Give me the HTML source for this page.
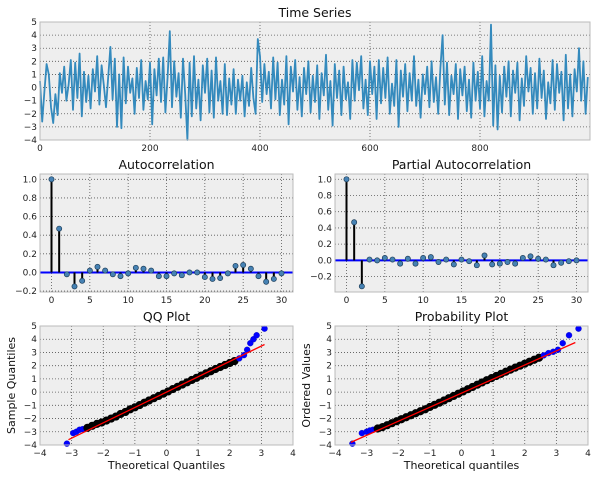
<!DOCTYPE html>
<html><head><meta charset="utf-8"><style>
html,body{margin:0;padding:0;background:#fff;}
svg{display:block;font-family:"DejaVu Sans","Liberation Sans",sans-serif;}
</style></head><body>
<svg id="fig" width="600" height="480" viewBox="0 0 600 480" xmlns="http://www.w3.org/2000/svg"></svg>
<script>
const tsValues=[0.5,-2.6,-0.3,1.8,1.0,-1.5,-2.7,-0.5,-2.1,1.1,
-0.4,1.6,-1.0,0.2,2.1,-1.7,1.9,-0.8,2.6,-2.2,
1.2,-1.1,0.9,-1.6,1.4,-0.3,2.4,-1.3,1.7,0.2,
-1.5,0.8,3.1,-0.9,2.2,-3.0,1.0,-3.1,2.3,-1.2,
1.6,-0.4,0.7,-2.0,1.5,-0.8,2.1,-1.7,0.5,-0.9,
1.9,-2.8,1.4,-0.6,2.2,-1.1,2.3,-1.9,0.8,4.3,
-1.5,2.0,-0.7,1.1,-2.3,2.2,-0.5,-4.0,1.9,-2.2,
2.4,-1.6,0.6,-2.5,1.7,-0.4,2.2,-1.9,1.3,-2.3,
2.3,-1.0,0.5,-2.0,1.8,-2.1,0.7,-1.3,1.4,-2.0,
0.6,-1.0,0.9,-2.2,0.4,-1.4,1.5,-0.8,-2.0,3.7,
2.4,-1.1,1.8,-0.5,1.2,-1.6,2.3,-0.9,1.9,-2.1,
0.6,-1.3,2.4,-2.8,1.6,-0.3,2.1,-1.7,0.8,-2.2,
1.5,-0.5,2.0,-1.9,0.9,-1.1,1.7,-2.4,1.1,-0.6,
2.5,-1.7,0.5,-2.9,1.8,-0.8,1.3,-2.1,1.6,-0.9,
0.4,-2.4,2.1,-1.0,1.9,-0.2,2.4,-1.6,0.6,-2.1,
2.0,-0.5,1.6,-2.4,2.1,-1.2,1.5,-0.8,2.3,-2.0,
0.3,-1.4,2.1,-3.0,1.3,-0.7,1.8,-1.8,1.1,-1.0,
2.4,-1.4,0.6,-2.3,1.0,-0.5,1.6,-1.5,2.0,-1.1,
0.8,-2.0,1.5,4.0,-1.3,1.9,-2.1,0.9,-0.5,1.8,
-2.4,1.4,-0.6,1.6,-1.8,0.6,-2.3,1.9,-1.0,1.2,
-1.6,2.4,-2.2,0.5,-1.0,4.8,-2.9,1.7,-3.2,0.9,
-1.9,1.6,-0.7,2.0,-2.2,1.3,-0.4,1.9,-2.5,0.7,
-1.4,2.4,-0.3,1.5,-2.0,1.1,-1.6,2.2,-0.8,1.3,
-2.4,0.4,-1.2,2.1,-1.7,1.8,-0.4,1.2,-2.5,2.5,
-1.6,1.0,-2.2,1.4,-0.3,3.0,-1.0,2.0,-2.0,0.8];
const tsStep=4;
const tsXTicks=[0,200,400,600,800];
const tsYTicks=[-4,-3,-2,-1,0,1,2,3,4,5];
const acfValues=[1.0,0.47,-0.02,-0.15,-0.09,0.02,0.06,0.02,-0.02,-0.04,-0.01,0.05,0.04,0.02,-0.04,-0.04,-0.01,-0.03,0.0,0.0,-0.05,-0.07,-0.06,-0.01,0.07,0.08,0.04,-0.04,-0.10,-0.07,-0.01];
const pacfValues=[1.0,0.47,-0.32,0.01,0.0,0.03,0.01,-0.04,0.02,-0.04,0.03,0.04,-0.02,0.01,-0.05,0.01,-0.01,-0.06,0.06,-0.05,-0.04,-0.02,-0.04,0.03,0.05,0.02,0.01,-0.06,-0.03,-0.01,0.0];
const lagTicks=[0,5,10,15,20,25,30];
const acfYTicks=[-0.2,0.0,0.2,0.4,0.6,0.8,1.0];
const pacfYTicks=[-0.2,0.0,0.2,0.4,0.6,0.8,1.0];
const qqTheo=[-3.15,-2.95,-2.85,-2.75,-2.65,-2.5,-2.35,-2.2,-2.05,-1.9,-1.75,-1.6,-1.45,-1.3,-1.15,-1.0,-0.85,-0.7,-0.55,-0.4,-0.25,-0.1,0.05,0.2,0.35,0.5,0.65,0.8,0.95,1.1,1.25,1.4,1.55,1.7,1.85,2.0,2.15,2.3,2.45,2.55,2.65,2.75,2.85,3.1];
const qqSample=[-3.9,-3.1,-3.0,-2.85,-2.8,-2.7,-2.55,-2.4,-2.3,-2.15,-2.0,-1.85,-1.65,-1.5,-1.3,-1.15,-0.98,-0.8,-0.63,-0.46,-0.29,-0.12,0.05,0.23,0.4,0.57,0.74,0.92,1.08,1.25,1.42,1.58,1.75,1.9,2.05,2.2,2.35,2.55,2.8,3.2,3.7,4.0,4.3,4.8];
const qqLine=[[-3.1,-3.6],[3.1,3.6]];
const ppTheo=[-3.45,-3.15,-3.0,-2.9,-2.8,-2.65,-2.5,-2.35,-2.2,-2.05,-1.9,-1.75,-1.6,-1.45,-1.3,-1.15,-1.0,-0.85,-0.7,-0.55,-0.4,-0.25,-0.1,0.05,0.2,0.35,0.5,0.65,0.8,0.95,1.1,1.25,1.4,1.55,1.7,1.85,2.0,2.15,2.3,2.45,2.6,2.75,2.9,3.05,3.2,3.4,3.7];
const ppSample=[-3.9,-3.1,-3.0,-2.9,-2.85,-2.75,-2.65,-2.5,-2.35,-2.2,-2.05,-1.9,-1.75,-1.6,-1.45,-1.3,-1.12,-0.96,-0.8,-0.63,-0.46,-0.29,-0.12,0.05,0.22,0.39,0.56,0.73,0.9,1.06,1.22,1.38,1.54,1.7,1.85,2.0,2.15,2.3,2.45,2.6,2.78,2.95,3.05,3.2,3.7,4.3,4.8];
const ppLine=[[-3.5,-3.8],[3.6,3.75]];
const qqXTicks=[-4,-3,-2,-1,0,1,2,3,4];
const qqYTicks=[-4,-3,-2,-1,0,1,2,3,4,5];

const NS="http://www.w3.org/2000/svg";
const fig=document.getElementById('fig');
function el(tag,attrs,parent){const e=document.createElementNS(NS,tag);for(const k in attrs)e.setAttribute(k,attrs[k]);(parent||fig).appendChild(e);return e;}
function fmt(v,dec){return (v<0?'\u2212':'')+Math.abs(v).toFixed(dec);}

function makeAxes(name,box,xlim,ylim,xticks,yticks,xdec,ydec,title){
  const g=el('g',{});
  
  
  const sx=v=>box.x+(v-xlim[0])/(xlim[1]-xlim[0])*box.w;
  const sy=v=>box.y+box.h-(v-ylim[0])/(ylim[1]-ylim[0])*box.h;
  const bg=el('rect',{x:box.x,y:box.y,width:box.w,height:box.h,fill:'#eeeeee'},g);
  
  
  xticks.forEach(t=>{const x=sx(t);
    el('line',{x1:x,x2:x,y1:box.y,y2:box.y+box.h,stroke:'#555',"stroke-width":0.8,"stroke-dasharray":"1,2"},g);
    const tx=el('text',{x:x,y:box.y+box.h+11,"font-size":9,"text-anchor":"middle",fill:'#222'},g);
    tx.textContent=fmt(t,xdec);
    
    
  });
  yticks.forEach(t=>{const y=sy(t);
    el('line',{x1:box.x,x2:box.x+box.w,y1:y,y2:y,stroke:'#555',"stroke-width":0.8,"stroke-dasharray":"1,2"},g);
    const tx=el('text',{x:box.x-3,y:y+3,"font-size":9,"text-anchor":"end",fill:'#222'},g);
    tx.textContent=fmt(t,ydec);
    
    
  });
  const tt=el('text',{x:box.x+box.w/2,y:box.y-5,"font-size":12.5,"text-anchor":"middle",fill:'#111'},g);
  tt.textContent=title;
  
  
  return {g,sx,sy,box};
}
function frame(a){el('rect',{x:a.box.x,y:a.box.y,width:a.box.w,height:a.box.h,fill:'none',stroke:'#bbb',"stroke-width":1},a.g);}

const ts=makeAxes('time-series-chart',{x:40,y:22,w:550,h:118},[0,1000],[-4,5],tsXTicks,tsYTicks,0,0,'Time Series');
let d='';tsValues.forEach((v,i)=>{d+=(i?'L':'M')+ts.sx(i*tsStep).toFixed(1)+','+ts.sy(v).toFixed(1);});
const tsl=el('path',{d:d,fill:'none',stroke:'#348abd',"stroke-width":1.8,"stroke-linejoin":"round"},ts.g);


frame(ts);

function stemPlot(name,box,ylim,vals,yticks,title){
  const a=makeAxes(name,box,[-1.5,31.5],ylim,lagTicks,yticks,0,1,title);
  const z=el('line',{x1:box.x,x2:box.x+box.w,y1:a.sy(0),y2:a.sy(0),stroke:'#0000ff',"stroke-width":2},a.g);
  
  
  vals.forEach((v,i)=>{
    const s=el('line',{x1:a.sx(i),x2:a.sx(i),y1:a.sy(0),y2:a.sy(v),stroke:'#000',"stroke-width":2},a.g);
    
    
  });
  vals.forEach((v,i)=>{
    const c=el('circle',{cx:a.sx(i),cy:a.sy(v),r:2.6,fill:'#4682b4',stroke:'#1f3f5a',"stroke-width":0.7},a.g);
    
    
  });
  frame(a);
}
stemPlot('acf-chart',{x:40,y:174,w:253,h:118},[-0.21,1.057],acfValues,acfYTicks,'Autocorrelation');
stemPlot('pacf-chart',{x:335,y:174,w:253,h:118},[-0.39,1.065],pacfValues,pacfYTicks,'Partial Autocorrelation');

function qqPlot(name,box,theo,samp,line,title,xlab,ylab){
  const a=makeAxes(name,box,[-4,4],[-4,5],qqXTicks,qqYTicks,0,0,title);
  theo.forEach((t,i)=>{
    const mid=i>4&&i<theo.length-7;
    const c=el('circle',{cx:a.sx(t),cy:a.sy(samp[i]),r:3,fill:mid?'#000':'#0000ff',stroke:mid?'#000':'#0000aa',"stroke-width":mid?2.2:0.3},a.g);
    
    
  });
  const l=el('line',{x1:a.sx(line[0][0]),y1:a.sy(line[0][1]),x2:a.sx(line[1][0]),y2:a.sy(line[1][1]),stroke:'#ff0000',"stroke-width":1.3},a.g);
  
  
  frame(a);
  const xl=el('text',{x:box.x+box.w/2,y:box.y+box.h+24,"font-size":11,"text-anchor":"middle",fill:'#111'},a.g);
  xl.textContent=xlab;
  
  
  const cy=box.y+box.h/2, cx=box.x-25;
  const yl=el('text',{x:cx,y:cy,"font-size":11,"text-anchor":"middle",fill:'#111',transform:'rotate(-90 '+cx+' '+cy+')'},a.g);
  yl.textContent=ylab;
  
  
}
qqPlot('qq-plot',{x:40,y:326,w:253,h:119},qqTheo,qqSample,qqLine,'QQ Plot','Theoretical Quantiles','Sample Quantiles');
qqPlot('probability-plot',{x:335,y:326,w:253,h:119},ppTheo,ppSample,ppLine,'Probability Plot','Theoretical quantiles','Ordered Values');
</script>
</body></html>
